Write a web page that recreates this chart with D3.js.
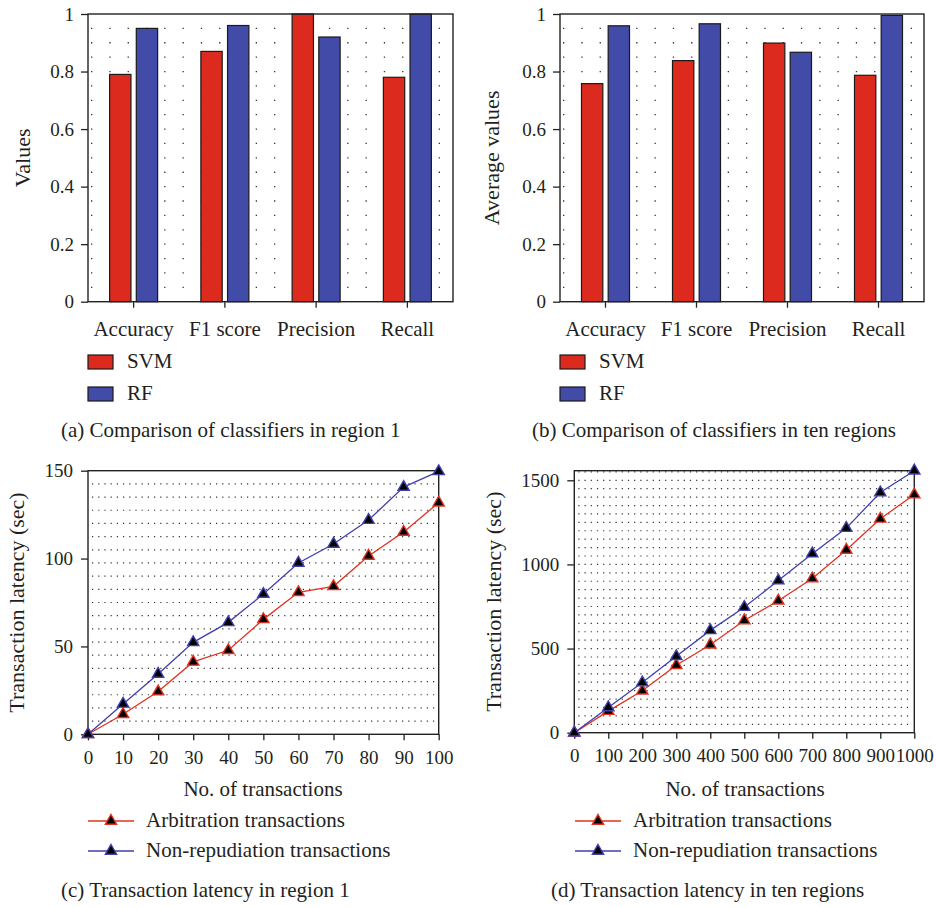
<!DOCTYPE html>
<html>
<head>
<meta charset="utf-8">
<script src="https://cdn.jsdelivr.net/npm/d3@7"></script>
<style>
  body { margin: 0; background: #fff; }
  svg { display: block; font-family: "Liberation Serif", "DejaVu Serif", serif; }
  text { fill: #231f20; }
</style>
</head>
<body>
<svg id="chart" width="936" height="907"></svg>
<script>
// classifier metrics
const metrics = ['Accuracy', 'F1 score', 'Precision', 'Recall'];
const classifiers = ['SVM', 'RF'];
const region1Svm = [0.79, 0.87, 1.0, 0.78];
const region1Rf = [0.95, 0.96, 0.92, 1.0];
const tenSvm = [0.758, 0.838, 0.899, 0.787];
const tenRf = [0.959, 0.966, 0.867, 0.995];

// transaction latency
const txRegion1 = [0, 10, 20, 30, 40, 50, 60, 70, 80, 90, 100];
const arbRegion1 = [0, 11.4, 24.3, 41.2, 47.8, 65.4, 80.8, 84.2, 101.5, 115.1, 131.8];
const nonRepRegion1 = [0, 17.3, 34.3, 52.3, 63.7, 79.8, 97.5, 108.3, 121.9, 140.7, 149.6];
const txTen = [0, 100, 200, 300, 400, 500, 600, 700, 800, 900, 1000];
const arbTen = [0, 128, 249, 401, 523, 667, 784, 916, 1086, 1271, 1415];
const nonRepTen = [0, 150, 298, 454, 608, 746, 904, 1064, 1216, 1427, 1557];
const lineSeries = ['Arbitration transactions', 'Non-repudiation transactions'];

const barColors = { SVM: '#dc2b1e', RF: '#434ba8' };
const lineColors = ['#e2321f', '#3f3fae'];

const svg = d3.select('#chart');
const FS_TICK = 19;   // digits
const FS = 21;        // words
const FS_YLAB = 22;

function frame(g, x0, x1, y0, y1) {
  g.append('rect').attr('x', x0).attr('y', y1).attr('width', x1 - x0).attr('height', y0 - y1)
    .attr('fill', 'none').attr('stroke', '#222').attr('stroke-width', 1.4);
}

function barPanel(opt) {
  const g = svg.append('g');
  const x = d3.scaleBand().domain(metrics).range([opt.x0, opt.x1]).padding(0);
  const bw = x.bandwidth();
  const xi = d3.scaleBand().domain(classifiers).range([bw / 2 - 24, bw / 2 + 24]).paddingInner(0.2);
  const y = d3.scaleLinear().domain([0, 1]).range([opt.y0, opt.y1]);

  // dotted background
  g.append('g').selectAll('line').data(d3.range(0.05, 1, 0.05)).join('line')
    .attr('x1', opt.x0 + 3).attr('x2', opt.x1)
    .attr('y1', d => y(d)).attr('y2', d => y(d))
    .attr('stroke', '#333').attr('stroke-width', 1.3)
    .attr('stroke-dasharray', '1.3,17');

  const rows = metrics.map((m, i) => ({ m, vals: [opt.svm[i], opt.rf[i]] }));
  g.append('g').selectAll('g').data(rows).join('g')
    .attr('transform', d => `translate(${x(d.m)},0)`)
    .selectAll('rect').data(d => classifiers.map((c, k) => ({ c, v: d.vals[k] }))).join('rect')
    .attr('x', d => xi(d.c)).attr('width', xi.bandwidth())
    .attr('y', d => y(d.v)).attr('height', d => y(0) - y(d.v))
    .attr('fill', d => barColors[d.c]).attr('stroke', '#1a1a1a').attr('stroke-width', 1.2);

  frame(g, opt.x0, opt.x1, opt.y0, opt.y1);

  const ay = g.append('g').attr('transform', `translate(${opt.x0},0)`)
    .call(d3.axisLeft(y).tickValues([0, 0.2, 0.4, 0.6, 0.8, 1]).tickFormat(d3.format('~g')).tickSize(7).tickPadding(7));
  ay.select('.domain').remove();
  ay.selectAll('text').attr('font-size', FS_TICK).attr('font-family', 'Liberation Serif').attr('fill', '#231f20');
  ay.selectAll('line').attr('stroke', '#222').attr('stroke-width', 1.3);

  const ax = g.append('g').attr('transform', `translate(0,${opt.y0})`)
    .call(d3.axisBottom(x).tickSize(6).tickPadding(13));
  ax.select('.domain').remove();
  ax.selectAll('text').attr('font-size', FS).attr('font-family', 'Liberation Serif').attr('fill', '#231f20');
  ax.selectAll('line').attr('stroke', '#222').attr('stroke-width', 1.3);

  g.append('text').attr('transform', `translate(${opt.labelX},${(opt.y0 + opt.y1) / 2}) rotate(-90)`)
    .attr('text-anchor', 'middle').attr('dy', '0.35em').attr('font-size', FS_YLAB).text(opt.ylabel);

  const leg = g.append('g').selectAll('g').data(classifiers).join('g')
    .attr('transform', (d, i) => `translate(${opt.x0},${355 + i * 32})`);
  leg.append('rect').attr('width', 25).attr('height', 14)
    .attr('fill', d => barColors[d]).attr('stroke', '#1a1a1a').attr('stroke-width', 1.2);
  leg.append('text').attr('x', 39).attr('y', 13).attr('font-size', FS).text(d => d);

  g.append('text').attr('x', opt.capX).attr('y', 437).attr('font-size', FS).text(opt.caption);
}

function linePanel(opt) {
  const g = svg.append('g');
  const x = d3.scaleLinear().domain([0, d3.max(opt.xs)]).range([opt.x0, opt.x1]);
  const y = d3.scaleLinear().domain([0, opt.ymax]).range([opt.y0, opt.y1]);

  g.append('g').selectAll('line').data(d3.range(opt.gridStep, opt.ymax, opt.gridStep)).join('line')
    .attr('x1', opt.x0 + 4).attr('x2', opt.x1 - 3)
    .attr('y1', d => y(d)).attr('y2', d => y(d))
    .attr('stroke', '#333').attr('stroke-width', 1.2)
    .attr('stroke-dasharray', '1.2,5');

  frame(g, opt.x0, opt.x1, opt.y0, opt.y1);

  const ay = g.append('g').attr('transform', `translate(${opt.x0},0)`)
    .call(d3.axisLeft(y).tickValues(opt.yticks).tickSize(7).tickPadding(8).tickFormat(d3.format('d')));
  ay.select('.domain').remove();
  ay.selectAll('text').attr('font-size', FS_TICK).attr('font-family', 'Liberation Serif').attr('fill', '#231f20');
  ay.selectAll('line').attr('stroke', '#222').attr('stroke-width', 1.3);

  const ax = g.append('g').attr('transform', `translate(0,${opt.y0})`)
    .call(d3.axisBottom(x).tickValues(opt.xs).tickSize(6).tickPadding(10).tickFormat(d3.format('d')));
  ax.select('.domain').remove();
  ax.selectAll('text').attr('font-size', FS_TICK).attr('font-family', 'Liberation Serif').attr('fill', '#231f20');
  ax.selectAll('line').attr('stroke', '#222').attr('stroke-width', 1.3);

  const line = d3.line().x((d, i) => x(opt.xs[i])).y(d => y(d));
  const tri = d3.symbol().type(d3.symbolTriangle).size(55);
  opt.series.forEach((vals, k) => {
    g.append('path').datum(vals).attr('d', line)
      .attr('fill', 'none').attr('stroke', lineColors[k]).attr('stroke-width', 1.3);
  });
  opt.series.forEach((vals, k) => {
    g.append('g').selectAll('path').data(vals).join('path')
      .attr('transform', (d, i) => `translate(${x(opt.xs[i])},${y(d)})`)
      .attr('d', tri).attr('fill', '#000').attr('stroke', lineColors[k]).attr('stroke-width', 1.4);
  });

  g.append('text').attr('transform', `translate(${opt.labelX},${(opt.y0 + opt.y1) / 2}) rotate(-90)`)
    .attr('text-anchor', 'middle').attr('dy', '0.35em').attr('font-size', FS_YLAB).text('Transaction latency (sec)');
  g.append('text').attr('x', opt.titleX).attr('y', 796).attr('text-anchor', 'middle')
    .attr('font-size', FS).text('No. of transactions');

  const leg = g.append('g').selectAll('g').data(lineSeries).join('g')
    .attr('transform', (d, i) => `translate(${opt.legX},${821 + i * 30})`);
  leg.append('line').attr('x1', 0).attr('x2', 46)
    .attr('stroke', (d, i) => lineColors[i]).attr('stroke-width', 1.3);
  leg.append('path').attr('transform', 'translate(23,0)').attr('d', tri)
    .attr('fill', '#000').attr('stroke', (d, i) => lineColors[i]).attr('stroke-width', 1.4);
  leg.append('text').attr('x', 58).attr('y', 6).attr('font-size', FS).text(d => d);

  g.append('text').attr('x', opt.capX).attr('y', 897).attr('font-size', FS).text(opt.caption);
}

barPanel({ x0: 88, x1: 453, y0: 301.7, y1: 14, svm: region1Svm, rf: region1Rf,
  ylabel: 'Values', labelX: 22, capX: 61, caption: '(a) Comparison of classifiers in region 1' });
barPanel({ x0: 560, x1: 924, y0: 301.7, y1: 14, svm: tenSvm, rf: tenRf,
  ylabel: 'Average values', labelX: 491, capX: 532, caption: '(b) Comparison of classifiers in ten regions' });

linePanel({ x0: 88, x1: 438.7, y0: 734.3, y1: 470.7, xs: txRegion1, ymax: 150, yticks: [0, 50, 100, 150],
  gridStep: 7.5, series: [arbRegion1, nonRepRegion1], labelX: 16, titleX: 263, legX: 88, capX: 61,
  caption: '(c) Transaction latency in region 1' });
linePanel({ x0: 574.3, x1: 914.3, y0: 732.7, y1: 470.7, xs: txTen, ymax: d3.max(nonRepTen), yticks: [0, 500, 1000, 1500],
  gridStep: 50, series: [arbTen, nonRepTen], labelX: 493, titleX: 745, legX: 575, capX: 551,
  caption: '(d) Transaction latency in ten regions' });
</script>
</body>
</html>
